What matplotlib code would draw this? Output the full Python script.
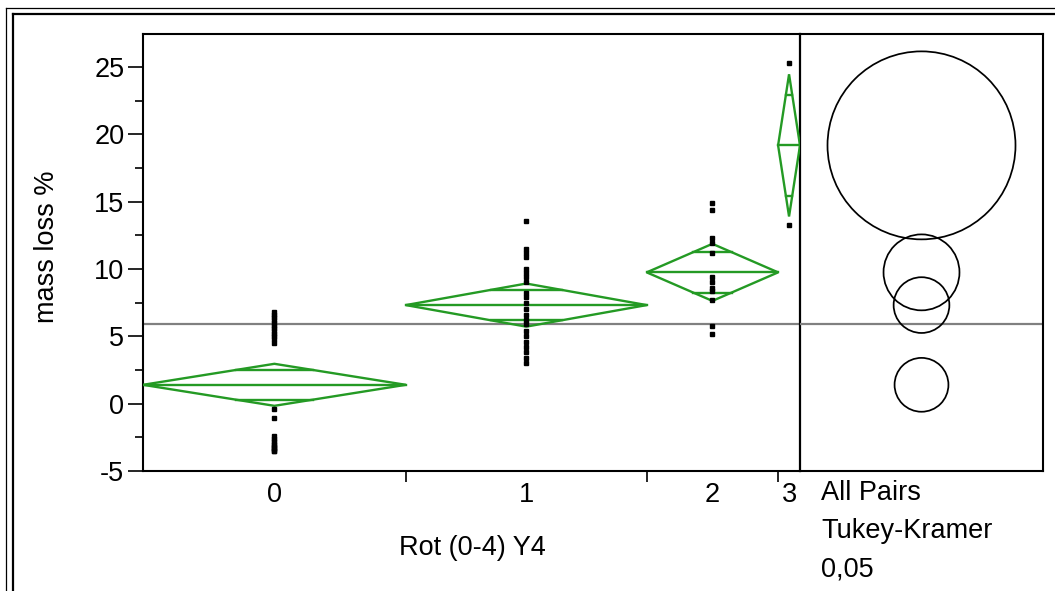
import matplotlib
matplotlib.use("Agg")
import matplotlib.pyplot as plt
from matplotlib.patches import Circle, Polygon
from matplotlib.lines import Line2D
import numpy as np

plt.rcParams["font.family"] = ["Liberation Sans", "DejaVu Sans"]
plt.rcParams["axes.unicode_minus"] = False

# Groups of "Rot (0-4) Y4" and their sample sizes (group widths on the x axis)
groups = ["0", "1", "2", "3"]
group_n = [24, 22, 12, 2]

# Observed mass loss % per group
rot_0 = [6.8, 6.6, 6.4, 6.2, 6.0, 5.8, 5.6, 5.4, 5.2, 5.0, 4.8, 4.5,
         -0.4, -1.1,
         -2.4, -2.6, -2.8, -3.0, -3.1, -3.2, -3.3, -3.4, -3.5, -3.5]
rot_1 = [13.6, 11.5, 11.2, 10.9, 10.0, 9.7, 9.4, 9.0, 8.2, 7.9, 7.5,
         7.0, 6.6, 6.2, 5.9, 5.4, 5.0, 4.6, 4.2, 3.8, 3.4, 3.0]
rot_2 = [14.9, 14.4, 12.3, 11.9, 11.2, 9.4, 9.0, 8.6, 8.4, 7.7, 5.8, 5.2]
rot_3 = [25.3, 13.3]
observations = [rot_0, rot_1, rot_2, rot_3]

# Means diamonds: group mean and 95% confidence half-width
group_means = [1.40, 7.32, 9.75, 19.18]
ci_half = [1.56, 1.60, 2.12, 5.28]
grand_mean = 5.9

# Tukey-Kramer comparison circle radii
circle_radii = [2.0, 2.07, 2.82, 6.98]

green = "#249a24"
fs = 19.5
W, H = 1055, 591
fig = plt.figure(figsize=(W / 100, H / 100), dpi=100)

ax_left, ax_right, ax_top, ax_bot = 143, 800, 34, 471
c_right = 1043
ax = fig.add_axes([ax_left / W, (H - ax_bot) / H,
                   (ax_right - ax_left) / W, (ax_bot - ax_top) / H])
axc = fig.add_axes([ax_right / W, (H - ax_bot) / H,
                    (c_right - ax_right) / W, (ax_bot - ax_top) / H])
axc.set_facecolor("none")

ymin, ymax = -5, 27.45
ax.set_ylim(ymin, ymax)
axc.set_ylim(ymin, ymax)

edges = np.concatenate([[0], np.cumsum(group_n)])
centers = (edges[:-1] + edges[1:]) / 2
ax.set_xlim(edges[0], edges[-1])

# Means diamonds with overlap marks
for i in range(len(groups)):
    x0, x1, xc = edges[i], edges[i + 1], centers[i]
    m, h = group_means[i], ci_half[i]
    dia = Polygon([[x0, m], [xc, m + h], [x1, m], [xc, m - h]], closed=True,
                  fill=False, edgecolor=green, lw=1.7, zorder=3)
    ax.add_patch(dia)
    ax.plot([x0, x1], [m, m], color=green, lw=1.7, zorder=3)
    k = 1 / np.sqrt(2)
    half_w = (x1 - x0) / 2 * (1 - k)
    for s in (1, -1):
        ax.plot([xc - half_w, xc + half_w], [m + s * h * k] * 2,
                color=green, lw=1.7, zorder=3)

# Data points
for i, vals in enumerate(observations):
    ax.plot([centers[i]] * len(vals), vals, ls="none", marker="s",
            ms=3.2, color="black", mec="black", zorder=4)

# Grand mean line across both panels
ax.axhline(grand_mean, color="#808080", lw=1.6, zorder=2)
axc.axhline(grand_mean, color="#808080", lw=1.6, zorder=2)

# Comparison circles, kept round by matching x units per pixel to y
units_per_px = (ymax - ymin) / (ax_bot - ax_top)
half_span = (c_right - ax_right) * units_per_px / 2
axc.set_xlim(-half_span, half_span)
for m, r in zip(group_means, circle_radii):
    axc.add_patch(Circle((0, m), r, fill=False, edgecolor="black", lw=1.25,
                         zorder=3))

# Axis styling
for a in (ax, axc):
    for sp in a.spines.values():
        sp.set_linewidth(1.5)
        sp.set_color("black")
axc.spines["left"].set_visible(False)
ax.spines["right"].set_linewidth(1.6)
axc.tick_params(which="both", left=False, labelleft=False,
                bottom=False, labelbottom=False)

ax.set_yticks([-5, 0, 5, 10, 15, 20, 25])
ax.set_yticks(np.arange(-2.5, 27, 5), minor=True)
ax.tick_params(axis="y", which="major", length=10.5, width=1.2,
               labelsize=fs, pad=3)
ax.tick_params(axis="y", which="minor", length=5.5, width=1.2)

ax.set_xticks(centers)
ax.set_xticklabels(groups)
ax.set_xticks(edges[1:-1], minor=True)
ax.tick_params(axis="x", which="major", length=0, labelsize=fs, pad=8)
ax.tick_params(axis="x", which="minor", length=8, width=1.2)

fig.text(47 / W, 1 - 247 / H, "mass loss %", fontsize=fs, rotation=90,
         ha="center", va="center")
fig.text(472 / W, 1 - 548 / H, "Rot (0-4) Y4", fontsize=fs,
         ha="center", va="center")

for j, line in enumerate(["All Pairs", "Tukey-Kramer", "0,05"]):
    fig.text(821 / W, 1 - (493 + 38 * j) / H, line, fontsize=fs,
             ha="left", va="center")

# Double border around the report
def frame_line(x0, y0, x1, y1, lw):
    fig.add_artist(Line2D([x0 / W, x1 / W], [1 - y0 / H, 1 - y1 / H],
                          transform=fig.transFigure, color="black", lw=lw))

frame_line(6, 8, 6, H + 5, 0.9)
frame_line(6, 8, W + 5, 8, 0.9)
frame_line(12.5, 14, 12.5, H + 5, 1.6)
frame_line(12.5, 14, W + 5, 14, 1.6)

fig.savefig("out.png", dpi=100)
